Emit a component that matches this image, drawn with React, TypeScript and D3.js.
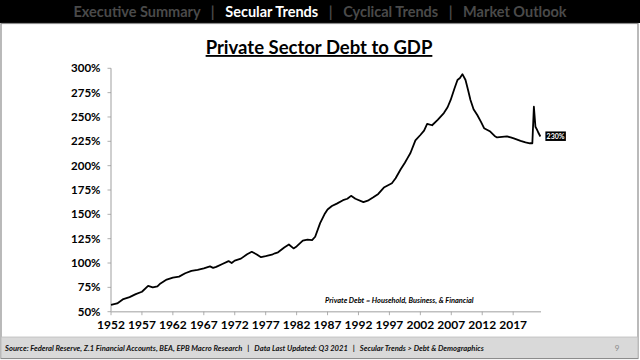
import * as d3 from 'd3';

// quarterly-ish readings (decimal year, % of GDP)
const years = [
  1952, 1953, 1954, 1955, 1956, 1957, 1958, 1958.75, 1959.5, 1960,
  1961, 1962, 1963, 1964, 1965, 1966, 1967, 1968, 1968.5, 1969,
  1970, 1971, 1971.5, 1972, 1973, 1974, 1974.75, 1975.5, 1976.25, 1977,
  1978, 1978.5, 1979, 1980, 1980.75, 1981.5, 1982, 1983, 1983.75, 1984.5,
  1985, 1985.8, 1986.5, 1987, 1987.7, 1988.5, 1989.5, 1990.2, 1990.8, 1991.5,
  1992.8, 1993.5, 1994.4, 1995.2, 1996.1, 1997.4, 1998, 1998.8, 1999.5, 1999.9,
  2000.4, 2001.2, 2002, 2002.6, 2003.1, 2003.9, 2004.8, 2005.8, 2006.4, 2006.9,
  2007.5, 2008, 2008.4, 2008.8, 2009.3, 2009.7, 2010.1, 2010.6, 2011.2, 2011.8,
  2012.3, 2013.3, 2014, 2014.4, 2015.2, 2016, 2016.6, 2017.1, 2018.2, 2019,
  2019.7, 2020.1, 2020.35, 2020.6, 2020.85, 2021.1, 2021.4,
];
const debt = [
  57, 58.5, 63, 65, 68, 70.5, 76.5, 75, 76, 79,
  83, 85, 86, 89.5, 92, 93, 94.5, 96.5, 95, 96,
  99, 102, 100, 102.5, 104.5, 109, 111.5, 109, 106, 107,
  108.5, 110, 111, 116, 119, 115, 117, 123, 124, 123.5,
  127, 141, 150, 155, 158.5, 161, 164.5, 166, 169, 166,
  162.5, 164, 167.5, 171, 177.5, 182, 187, 196, 203, 207.5,
  213, 226, 231.5, 236, 243, 241.5, 247, 254, 260, 267.5,
  279, 288, 290, 294, 288, 278, 267.5, 258, 252, 245,
  238.5, 235, 230.5, 229, 229.5, 230, 229, 228, 225.5, 224,
  223, 223, 260.5, 240, 237, 233.5, 230,
];

const xTicks = [1952, 1957, 1962, 1967, 1972, 1977, 1982, 1987, 1992, 1997, 2002, 2007, 2012, 2017];
const yTicks = [50, 75, 100, 125, 150, 175, 200, 225, 250, 275, 300];
const navItems = ['Executive Summary', 'Secular Trends', 'Cyclical Trends', 'Market Outlook'];
const activeNav = 'Secular Trends';

const W = 640;
const H = 360;
const FONT = 'Lato, "Open Sans", sans-serif';

export default function App() {
  const x = d3.scaleLinear().domain([1952, 2021.5]).range([111, 541]);
  const y = d3.scaleLinear().domain([50, 300]).range([311.7, 68.3]);

  const pts = years.map((yr, i) => [yr, debt[i]] as [number, number]);
  const line = d3.line<[number, number]>()
    .x((d) => x(d[0]))
    .y((d) => y(d[1]))
    .curve(d3.curveLinear);

  const last = pts[pts.length - 1];
  const sep = '   |   ';

  return (
    <svg
      width={W}
      height={H}
      style={{ position: 'absolute', left: 0, top: 0, display: 'block', background: '#fff' }}
      fontFamily={FONT}
    >
      {/* top nav bar */}
      <rect x={0} y={0} width={W} height={23} fill="#000" />
      <text
        x={320}
        y={16.5}
        textAnchor="middle"
        fontSize={14.5}
        fontWeight={700}
        fill="#4a4a4a"
        style={{ whiteSpace: 'pre' }}
      >
        {navItems.map((n, i) => (
          <tspan key={n} fill={n === activeNav ? '#fff' : '#4a4a4a'}>
            {n}
            {i < navItems.length - 1 ? <tspan fill="#4a4a4a">{sep}</tspan> : null}
          </tspan>
        ))}
      </text>

      {/* panel border */}
      <rect x={1} y={23.5} width={637} height={335} fill="none" stroke="#8c8c8c" strokeWidth={1.2} />

      {/* footer */}
      <rect x={1.5} y={337} width={636} height={21} fill="#d9d9d9" />
      <line x1={1} x2={638} y1={337} y2={337} stroke="#bdbdbd" strokeWidth={0.8} />
      <text x={5} y={351} fontSize={7.6} fontStyle="italic" fontWeight={700} fill="#111" style={{ whiteSpace: 'pre' }}>
        {'Source: Federal Reserve, Z.1 Financial Accounts, BEA, EPB Macro Research   |   Data Last Updated: Q3 2021   |   Secular Trends > Debt & Demographics'}
      </text>
      <text x={617} y={351} fontSize={8} fill="#8a8a8a" textAnchor="middle">9</text>

      {/* title */}
      <text x={319} y={54} textAnchor="middle" fontSize={18.5} fontWeight={700} fill="#000" textDecoration="underline">
        Private Sector Debt to GDP
      </text>

      {/* y axis */}
      <line x1={111} x2={111} y1={y(300)} y2={y(50)} stroke="#bfbfbf" strokeWidth={1.5} />
      {yTicks.map((t) => (
        <g key={t}>
          <line x1={107.5} x2={111} y1={y(t)} y2={y(t)} stroke="#9a9a9a" strokeWidth={0.8} />
          <text x={100.5} y={y(t) + 4} textAnchor="end" fontSize={11.5} fontWeight={700} fill="#000">
            {t}%
          </text>
        </g>
      ))}

      {/* x axis */}
      <line x1={111} x2={541} y1={y(50)} y2={y(50)} stroke="#bfbfbf" strokeWidth={1.5} />
      {xTicks.map((t) => (
        <g key={t}>
          <line x1={x(t)} x2={x(t)} y1={y(50)} y2={y(50) + 3.5} stroke="#9a9a9a" strokeWidth={0.8} />
          <text x={x(t)} y={329} textAnchor="middle" fontSize={12} fontWeight={700} fill="#000">
            {t}
          </text>
        </g>
      ))}

      {/* series */}
      <path d={line(pts) ?? ''} fill="none" stroke="#000" strokeWidth={1.8} strokeLinejoin="round" />

      {/* last value tag */}
      <rect x={x(last[0]) + 5} y={y(last[1]) - 5} width={20.5} height={9.5} fill="#000" />
      <text x={x(last[0]) + 15.2} y={y(last[1]) + 2.2} textAnchor="middle" fontSize={7} fontWeight={700} fill="#fff">
        {Math.round(last[1])}%
      </text>

      {/* note */}
      <text x={325} y={302.5} fontSize={7.4} fontStyle="italic" fontWeight={700} fill="#000">
        Private Debt = Household, Business, &amp; Financial
      </text>
    </svg>
  );
}
